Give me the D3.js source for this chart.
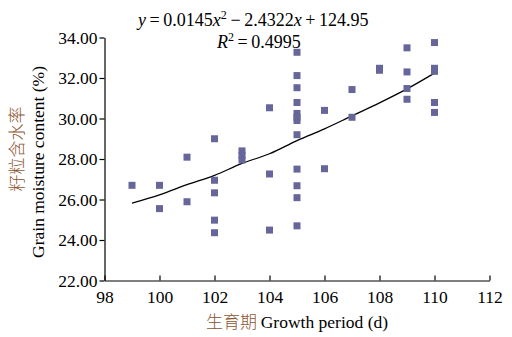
<!DOCTYPE html>
<html>
<head>
<meta charset="utf-8">
<script src="https://cdn.jsdelivr.net/npm/d3@7/dist/d3.min.js"></script>
<style>
	body { margin: 0; background: #fff; }
	text { font-family: "Liberation Serif", "Times New Roman", serif; }
	.cn { font-family: "Noto Sans CJK SC", sans-serif; font-weight: 300; fill: #8a5530; }
</style>
</head>
<body>
<div id="chart"></div>
<script>

// growth period (d) and grain moisture (%) for each sample
const days = [
	99,
	100, 100,
	101, 101,
	102, 102, 102, 102, 102,
	103, 103, 103,
	104, 104, 104,
	105, 105, 105, 105, 105, 105, 105, 105, 105, 105, 105, 105,
	106, 106,
	107, 107,
	108, 108,
	109, 109, 109, 109,
	110, 110, 110, 110, 110
];
const moisture = [
	26.70,
	26.70, 25.55,
	28.09, 25.89,
	29.00, 26.95, 26.33, 24.98, 24.36,
	28.40, 28.18, 27.95,
	30.53, 27.26, 24.49,
	33.27, 32.12, 31.52, 30.79, 30.25, 30.05, 29.90, 29.20, 27.50, 26.68, 26.09, 24.70,
	30.40, 27.52,
	31.43, 30.06,
	32.48, 32.38,
	33.49, 32.30, 31.48, 30.95,
	33.75, 32.48, 32.33, 30.79, 30.30
];

// trend line
const fitDays = [99, 100, 101, 102, 103, 104, 105, 106, 107, 108, 109, 110];
const fitMoisture = [25.82, 26.23, 26.73, 27.19, 27.78, 28.26, 28.91, 29.49, 30.13, 30.77, 31.46, 32.24];

const xTicks = [98, 100, 102, 104, 106, 108, 110, 112];
const yTicks = [22, 24, 26, 28, 30, 32, 34];

const width = 512, height = 337;

const svg = d3.select('#chart')
	.append('svg')
		.attr('width', width)
		.attr('height', height);

const xScale = d3.scaleLinear()
	.domain([98, 112])
	.range([104.5, 489.5]);

const yScale = d3.scaleLinear()
	.domain([22, 34])
	.range([280.5, 37.5]);

const xAxis = d3.axisBottom(xScale)
	.tickValues(xTicks)
	.tickSize(-5)
	.tickSizeOuter(0)
	.tickPadding(10);

const yAxis = d3.axisLeft(yScale)
	.tickValues(yTicks)
	.tickFormat(d3.format('.2f'))
	.tickSize(5)
	.tickSizeOuter(0)
	.tickPadding(2);

const gx = svg.append('g')
	.attr('transform', `translate(0, ${yScale(22)})`)
	.call(xAxis);

const gy = svg.append('g')
	.attr('transform', `translate(${xScale(98)}, 0)`)
	.call(yAxis);

[gx, gy].forEach(function(g) {
	g.selectAll('path, line').attr('stroke', '#000').attr('stroke-width', 1.2);
	g.selectAll('text')
		.attr('fill', '#000')
		.style('font-family', '"Liberation Serif", serif')
		.style('font-size', '17.5px');
});

// trend curve
const line = d3.line()
	.x(function(d, i) { return xScale(fitDays[i]); })
	.y(function(d) { return yScale(d); })
	.curve(d3.curveMonotoneX);

svg.append('path')
	.datum(fitMoisture)
	.attr('d', line)
	.attr('fill', 'none')
	.attr('stroke', '#000')
	.attr('stroke-width', 1.3);

// sample squares
const size = 7;
svg.selectAll('rect.pt')
	.data(days)
	.enter().append('rect')
		.attr('class', 'pt')
		.attr('x', function(d) { return xScale(d) - size / 2; })
		.attr('y', function(d, i) { return yScale(moisture[i]) - size / 2; })
		.attr('width', size)
		.attr('height', size)
		.attr('fill', '#66669a');

// equation
const eq = svg.append('text')
	.attr('x', 138)
	.attr('y', 26)
	.style('font-size', '18px');
eq.append('tspan').style('font-style', 'italic').text('y');
eq.append('tspan').text('\u2009=\u20090.0145');
eq.append('tspan').style('font-style', 'italic').text('x');
eq.append('tspan').attr('dy', -7).style('font-size', '12px').text('2');
eq.append('tspan').attr('dy', 7).text('\u2009\u2212\u20092.4322');
eq.append('tspan').style('font-style', 'italic').text('x');
eq.append('tspan').text('\u2009+\u2009124.95');

const r2 = svg.append('text')
	.attr('x', 217)
	.attr('y', 48)
	.style('font-size', '18px');
r2.append('tspan').style('font-style', 'italic').text('R');
r2.append('tspan').attr('dy', -7).style('font-size', '12px').text('2');
r2.append('tspan').attr('dy', 7).text('\u2009=\u20090.4995');

// x title
const xt = svg.append('text')
	.attr('x', 297)
	.attr('y', 328)
	.attr('text-anchor', 'middle')
	.style('font-size', '17.5px');
xt.append('tspan').attr('class', 'cn').style('font-size', '17px').text('生育期 ');
xt.append('tspan').text('Growth period (d)');

// y titles
svg.append('text')
	.attr('class', 'cn')
	.attr('transform', 'translate(23, 149) rotate(-90)')
	.attr('text-anchor', 'middle')
	.style('font-size', '17px')
	.text('籽粒含水率');

svg.append('text')
	.attr('transform', 'translate(44, 162) rotate(-90)')
	.attr('text-anchor', 'middle')
	.style('font-size', '17.5px')
	.text('Grain moisture content (%)');

</script>
</body>
</html>
